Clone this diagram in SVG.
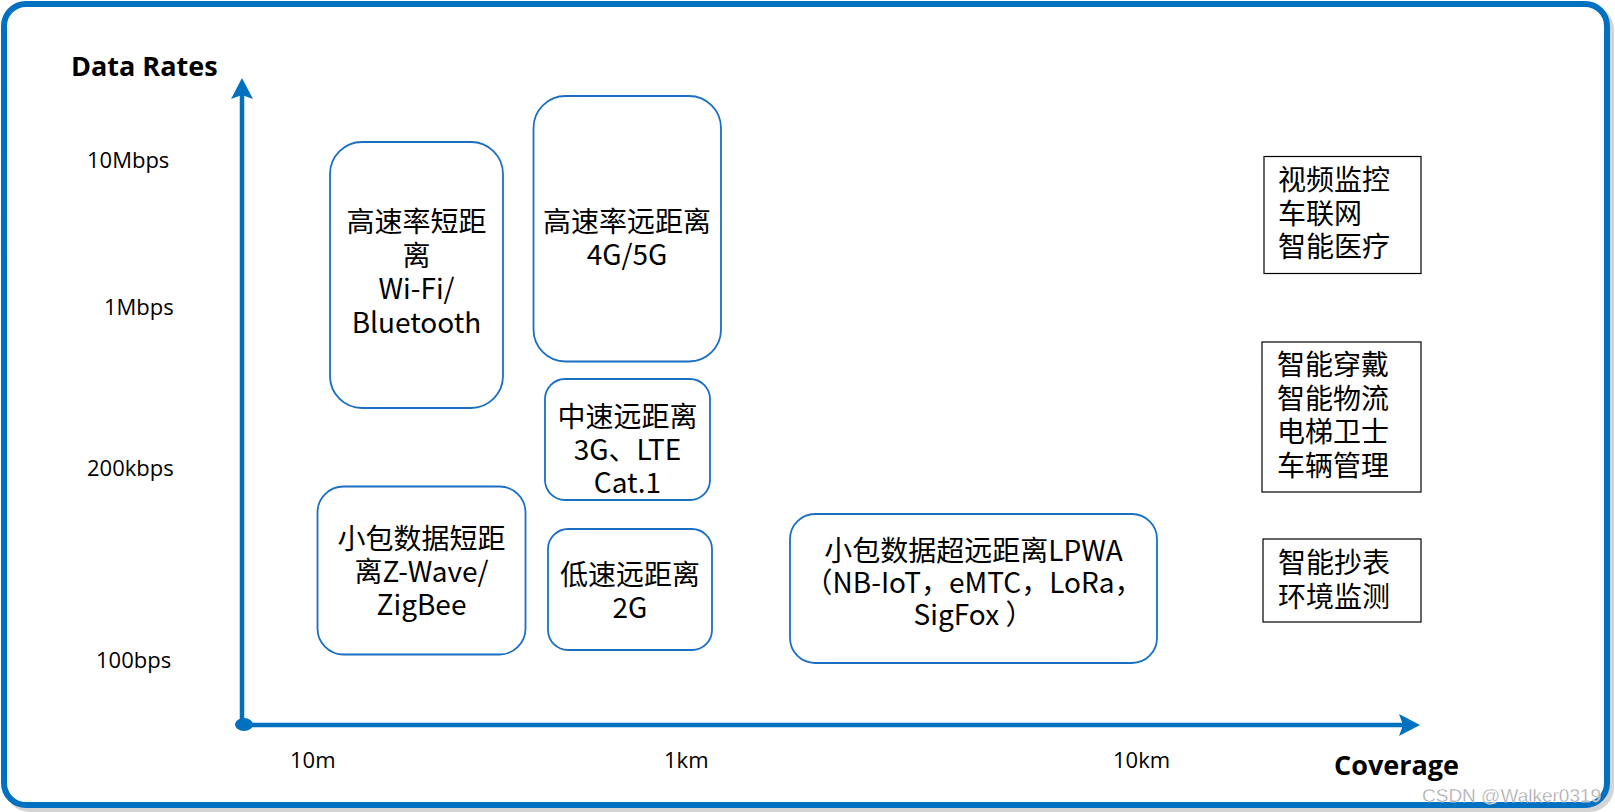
<svg xmlns="http://www.w3.org/2000/svg" width="1615" height="812" viewBox="0 0 1615 812">
<defs>
<style>
.frame{fill:none;stroke:#0070C0;stroke-width:6}
.shadow{fill:none;stroke:#d4d4d4;stroke-width:6}
.axis{stroke:#0070C0;stroke-width:4.5;fill:none}
.node{fill:#fff;stroke:#1a6fc2;stroke-width:1.8}
.app{fill:#fff;stroke:#000;stroke-width:1.2}
.t{font-family:"Noto Sans CJK SC","Noto Sans",sans-serif;font-size:28px;fill:#000}
.c{text-anchor:middle}
.lab{font-family:"Open Sans","Noto Sans",sans-serif;font-size:22px;fill:#000}
.title{font-family:"Open Sans","Noto Sans",sans-serif;font-size:27px;font-weight:bold;fill:#000}
.wm{font-family:"Liberation Sans",Arial,sans-serif;font-size:19px;fill:#a3a3a3;stroke:#fff;stroke-width:0.4}
</style>
<marker id="arr" markerUnits="userSpaceOnUse" markerWidth="22" markerHeight="22" refX="4" refY="11" orient="auto">
<path d="M0,0 L21,11 L0,22 L4,11 Z" fill="#0070C0"/>
</marker>
</defs>
<rect width="1615" height="812" fill="#fff"/>
<rect class="shadow" x="8" y="8" width="1603" height="801" rx="22"/>
<rect x="4" y="4" width="1603" height="801" rx="22" fill="#fff"/>
<rect class="frame" x="4" y="4" width="1603" height="801" rx="22"/>

<g id="axes-labels">
<text class="title" x="71" y="76">Data Rates</text>
<text class="title" x="1334" y="775">Coverage</text>
<text class="lab" x="87" y="168">10Mbps</text>
<text class="lab" x="104" y="315">1Mbps</text>
<text class="lab" x="87" y="476">200kbps</text>
<text class="lab" x="96" y="668">100bps</text>
<text class="lab" x="290" y="768">10m</text>
<text class="lab" x="664" y="768">1km</text>
<text class="lab" x="1113" y="768">10km</text>
</g>

<g id="connectors">
<line class="axis" x1="242" y1="724" x2="242" y2="95" marker-end="url(#arr)"/>
<line class="axis" x1="242" y1="725" x2="1403" y2="725" marker-end="url(#arr)"/>
<ellipse cx="244" cy="724.5" rx="9" ry="6.5" fill="#0070C0"/>
</g>

<g id="high-short">
<rect class="node" x="330" y="142" width="173" height="266" rx="32"/>
<text class="t c" x="416.5" y="232">高速率短距</text>
<text class="t c" x="416.5" y="265.5">离</text>
<text class="t c" x="416.5" y="299">Wi-Fi/</text>
<text class="t c" x="416.5" y="333">Bluetooth</text>
</g>

<g id="high-long">
<rect class="node" x="533.5" y="96" width="187.5" height="265.5" rx="32"/>
<text class="t c" x="627" y="232">高速率远距离</text>
<text class="t c" x="627" y="265">4G/5G</text>
</g>

<g id="mid-long">
<rect class="node" x="545" y="379" width="165" height="121" rx="20"/>
<text class="t c" x="627.5" y="427">中速远距离</text>
<text class="t c" x="627.5" y="460">3G、LTE</text>
<text class="t c" x="627.5" y="493">Cat.1</text>
</g>

<g id="low-long">
<rect class="node" x="548" y="529" width="164" height="121" rx="20"/>
<text class="t c" x="630" y="585">低速远距离</text>
<text class="t c" x="630" y="618">2G</text>
</g>

<g id="small-short">
<rect class="node" x="317.5" y="486.5" width="208" height="168" rx="26"/>
<text class="t c" x="421.5" y="549">小包数据短距</text>
<text class="t c" x="421.5" y="582">离Z-Wave/</text>
<text class="t c" x="421.5" y="615">ZigBee</text>
</g>

<g id="lpwa">
<rect class="node" x="790" y="514" width="367" height="149" rx="25"/>
<text class="t c" x="973.5" y="561">小包数据超远距离LPWA</text>
<text class="t c" x="973.5" y="593">（NB-IoT，eMTC，LoRa，</text>
<text class="t c" x="973.5" y="625">SigFox ）</text>
</g>

<g id="app-high">
<rect class="app" x="1264" y="156.5" width="157" height="117"/>
<text class="t" x="1278" y="190">视频监控</text>
<text class="t" x="1278" y="224">车联网</text>
<text class="t" x="1278" y="257">智能医疗</text>
</g>

<g id="app-mid">
<rect class="app" x="1262" y="342" width="159" height="150"/>
<text class="t" x="1277" y="375">智能穿戴</text>
<text class="t" x="1277" y="409">智能物流</text>
<text class="t" x="1277" y="442">电梯卫士</text>
<text class="t" x="1277" y="476">车辆管理</text>
</g>

<g id="app-low">
<rect class="app" x="1263" y="539" width="158" height="83"/>
<text class="t" x="1278" y="573">智能抄表</text>
<text class="t" x="1278" y="607">环境监测</text>
</g>

<text class="wm" x="1422" y="802">CSDN @Walker0319</text>
</svg>
